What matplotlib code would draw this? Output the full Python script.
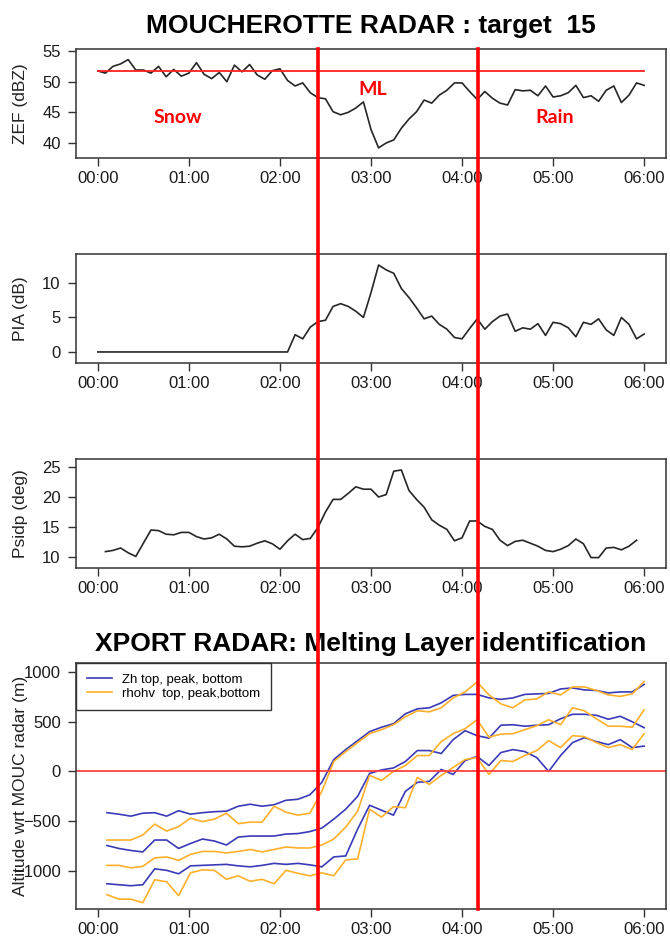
import numpy as np
import matplotlib
matplotlib.use("Agg")
import matplotlib.pyplot as plt
from matplotlib.lines import Line2D
from matplotlib.transforms import blended_transform_factory

plt.rcParams['font.family'] = ['Liberation Sans', 'DejaVu Sans']

# MOUCHEROTTE radar, 5 min steps from 00:00 to 06:00
zef = [51.75, 51.4, 52.5, 52.9, 53.6, 51.9, 51.9, 51.4, 52.5, 50.8,
       52.0, 50.9, 51.4, 53.1, 51.2, 50.5, 51.5, 50.0, 52.7, 51.6,
       52.8, 51.1, 50.4, 51.8, 52.1, 50.2, 49.3, 49.8, 48.2, 47.4,
       47.2, 45.1, 44.6, 45.0, 45.7, 46.7, 42.2, 39.2, 40.0, 40.5,
       42.4, 43.9, 45.1, 47.0, 46.5, 47.8, 48.6, 49.8, 49.8, 48.4,
       47.1, 48.4, 47.3, 46.5, 46.2, 48.7, 48.5, 48.6, 47.7, 49.3,
       47.5, 47.7, 48.2, 49.4, 47.4, 47.7, 46.8, 48.6, 49.3, 46.6,
       47.8, 49.8, 49.4]
zef_ref = 51.75

pia = [0.0] * 26 + [
    2.5, 1.9, 3.6, 4.4, 4.6, 6.6, 7.0, 6.6, 5.9, 5.0,
    8.6, 12.6, 11.9, 11.4, 9.2, 7.9, 6.4, 4.8, 5.2, 4.0,
    3.3, 2.1, 1.9, 3.4, 4.8, 3.3, 4.4, 5.2, 5.5, 3.0,
    3.5, 3.3, 4.1, 2.4, 4.3, 4.1, 3.5, 2.2, 4.3, 4.0,
    4.8, 3.2, 2.4, 5.0, 4.0, 1.9, 2.6]

# psidp starts at 00:05 and ends at 05:55
psidp = [10.9, 11.1, 11.5, 10.7, 10.1, 12.3, 14.5, 14.4, 13.8, 13.7,
         14.1, 14.1, 13.4, 13.0, 13.2, 13.8, 13.0, 11.8, 11.7, 11.8,
         12.3, 12.7, 12.2, 11.3, 12.7, 13.8, 12.9, 13.1, 14.9, 17.5,
         19.6, 19.6, 20.6, 21.7, 21.3, 21.3, 20.0, 20.4, 24.3, 24.5,
         21.1, 19.6, 18.3, 16.2, 15.3, 14.6, 12.7, 13.2, 16.0, 16.0,
         15.1, 14.6, 12.8, 11.9, 12.6, 12.8, 12.3, 11.8, 11.1, 10.9,
         11.3, 11.9, 13.0, 12.2, 9.9, 9.9, 11.5, 11.6, 11.2, 11.8,
         12.8]

# XPORT melting layer, altitude wrt MOUC radar (m)
zh_top = [-415, -430, -450, -420, -415, -450, -395, -430, -415, -405,
          -400, -350, -330, -350, -335, -290, -280, -235, -110, 120,
          220, 310, 400, 445, 480, 580, 630, 640, 690, 765,
          775, 775, 740, 725, 740, 775, 780, 785, 830, 840,
          820, 815, 790, 800, 800, 875]
zh_peak = [-745, -775, -795, -810, -690, -690, -775, -725, -680, -700,
           -740, -660, -650, -650, -650, -630, -625, -605, -570, -480,
           -380, -250, -20, 15, 35, 100, 210, 210, 180, 320,
           410, 360, 335, 465, 470, 455, 465, 470, 530, 575,
           575, 565, 525, 555, 500, 440]
zh_bot = [-1130, -1140, -1150, -1140, -980, -995, -1030, -950, -945, -940,
          -935, -950, -960, -945, -925, -935, -925, -940, -960, -860,
          -850, -580, -340, -390, -440, -200, -110, -100, 20, -30,
          110, 150, 60, 190, 220, 200, 140, 0, 160, 290,
          340, 300, 270, 320, 240, 255]
rho_top = [-690, -690, -690, -640, -530, -600, -555, -470, -505, -480,
           -420, -525, -510, -510, -350, -410, -440, -420, -200, 100,
           200, 290, 380, 420, 470, 550, 610, 600, 640, 740,
           800, 900, 770, 680, 640, 720, 730, 800, 770, 850,
           850, 815, 770, 755, 780, 905]
rho_peak = [-945, -945, -970, -955, -870, -860, -895, -835, -805, -805,
            -820, -805, -785, -810, -785, -760, -770, -770, -740, -680,
            -560, -400, -40, -90, 0, 60, 160, 160, 300, 380,
            430, 520, 345, 375, 380, 420, 460, 520, 470, 640,
            610, 530, 455, 455, 445, 620]
rho_bot = [-1240, -1285, -1285, -1320, -1090, -1110, -1250, -1020, -990, -995,
           -1085, -1050, -1105, -1085, -1130, -995, -1025, -1050, -1020, -1050,
           -890, -880, -380, -460, -355, -365, -60, -130, -40, 40,
           120, 140, -30, 110, 100, 160, 210, 310, 240, 360,
           350, 290, 240, 270, 220, 380]

ml_bounds = [2.42, 4.17]   # hours
hour_ticks = [0, 1, 2, 3, 4, 5, 6]
hour_labels = ['00:00', '01:00', '02:00', '03:00', '04:00', '05:00', '06:00']

t_mouc = np.arange(len(zef)) * 5 / 60.0
t_psidp = (np.arange(len(psidp)) + 1) * 5 / 60.0
t_xport = np.linspace(0.1, 6.0, len(zh_top))

W, H = 670, 942
fig = plt.figure(figsize=(W / 100, H / 100), dpi=100)


def box(top, bottom):
    return [76 / W, 1 - bottom / H, 590 / W, (bottom - top) / H]


ax1 = fig.add_axes(box(49, 158))
ax2 = fig.add_axes(box(254, 363))
ax3 = fig.add_axes(box(459, 568))
ax4 = fig.add_axes(box(663, 909))

line_col = '#262626'
ax1.plot(t_mouc, zef, color=line_col, lw=1.2)
ax1.plot([t_mouc[0], t_mouc[-1]], [zef_ref, zef_ref], color='#ff2020', lw=1.3)
ax2.plot(t_mouc, pia, color=line_col, lw=1.2)
ax3.plot(t_psidp, psidp, color=line_col, lw=1.2)

blue = '#3a3ab8'
orange = '#ffb02a'
ax4.plot(t_xport, zh_top, color=blue, lw=1.2, label='Zh top, peak, bottom')
ax4.plot(t_xport, zh_peak, color=blue, lw=1.2)
ax4.plot(t_xport, zh_bot, color=blue, lw=1.2)
ax4.plot(t_xport, rho_top, color=orange, lw=1.2, label='rhohv  top, peak,bottom')
ax4.plot(t_xport, rho_peak, color=orange, lw=1.2)
ax4.plot(t_xport, rho_bot, color=orange, lw=1.2)
ax4.axhline(0, color='#ff4040', lw=1.3)

ax1.set_ylim(37.55, 55.33)
ax1.set_yticks([40, 45, 50, 55])
ax2.set_ylim(-1.6, 14.2)
ax2.set_yticks([0, 5, 10])
ax3.set_ylim(8.17, 26.33)
ax3.set_yticks([10, 15, 20, 25])
ax4.set_ylim(-1384, 1091)
ax4.set_yticks([-1000, -500, 0, 500, 1000])

labels = ['ZEF (dBZ)', 'PIA (dB)', 'Psidp (deg)', 'Altitude wrt MOUC radar (m)']
for ax, lab in zip([ax1, ax2, ax3, ax4], labels):
    ax.set_xlim(-0.24, 6.24)
    ax.set_xticks(hour_ticks)
    ax.set_xticklabels(hour_labels)
    ax.tick_params(direction='out', length=5.5, width=1, labelsize=12,
                   color='#333333', labelcolor='#1a1a1a')
    ax.tick_params(axis='x', pad=4)
    ax.tick_params(axis='y', pad=5.5)
    for s in ax.spines.values():
        s.set_linewidth(1.1)
        s.set_color('#333333')
    # same fixed label position as the original (overlaps tick labels in the last panel)
    ax.set_ylabel(lab, fontsize=12.5, color='#222222')
    ax.yaxis.set_label_coords(-0.082, 0.5)

leg = ax4.legend(loc='upper left', bbox_to_anchor=(0, 1), borderaxespad=0,
                 fontsize=9.5, handlelength=1.9, handletextpad=0.8,
                 labelspacing=0.12, borderpad=0.8, fancybox=False,
                 framealpha=1, edgecolor='#333333')
leg.get_frame().set_linewidth(1.0)

# region labels
for x, y, s in [(0.88, 44.2, 'Snow'), (3.02, 48.8, 'ML'), (5.02, 44.2, 'Rain')]:
    ax1.text(x, y, s, color='red', fontsize=14, fontweight='bold',
             family=['Lato', 'DejaVu Sans'], ha='center', va='center')

# titles
xc = (76 + 666) / 2 / W
fig.text(xc, 1 - 26 / H, 'MOUCHEROTTE RADAR : target  15', fontsize=19,
         fontweight='bold', ha='center', va='center')
fig.text(xc, 1 - 644 / H, 'XPORT RADAR: Melting Layer identification', fontsize=19,
         fontweight='bold', ha='center', va='center')

# melting layer bounds across all panels
y_top = ax1.get_position().y1
y_bot = ax4.get_position().y0
trans = blended_transform_factory(ax1.transData, fig.transFigure)
for xb in ml_bounds:
    fig.add_artist(Line2D([xb, xb], [y_bot, y_top], transform=trans,
                          color='red', lw=2.6, clip_on=False, zorder=10))

fig.savefig('out.png', dpi=100)
